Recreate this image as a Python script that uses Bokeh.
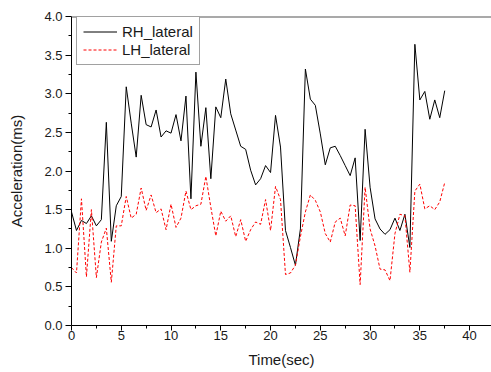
from bokeh.plotting import figure
from bokeh.models import FixedTicker, PrintfTickFormatter, Legend, LegendItem, Span, Range1d
from bokeh.embed import file_html
from bokeh.resources import INLINE

time_sec = [0.0, 0.5, 1.0, 1.5, 2.0, 2.5, 3.0, 3.5, 4.0, 4.5,
            5.0, 5.5, 6.0, 6.5, 7.0, 7.5, 8.0, 8.5, 9.0, 9.5,
            10.0, 10.5, 11.0, 11.5, 12.0, 12.5, 13.0, 13.5, 14.0, 14.5,
            15.0, 15.5, 16.0, 16.5, 17.0, 17.5, 18.0, 18.5, 19.0, 19.5,
            20.0, 20.5, 21.0, 21.5, 22.0, 22.5, 23.0, 23.5, 24.0, 24.5,
            25.0, 25.5, 26.0, 26.5, 27.0, 27.5, 28.0, 28.5, 29.0, 29.5,
            30.0, 30.5, 31.0, 31.5, 32.0, 32.5, 33.0, 33.5, 34.0, 34.5,
            35.0, 35.5, 36.0, 36.5, 37.0, 37.5]

rh_lateral = [1.47, 1.23, 1.36, 1.32, 1.42, 1.29, 1.37, 2.63, 1.09, 1.55,
              1.67, 3.09, 2.62, 2.18, 2.98, 2.60, 2.57, 2.79, 2.44, 2.52,
              2.49, 2.73, 2.39, 2.97, 1.64, 3.28, 2.32, 2.82, 1.90, 2.83,
              2.69, 3.19, 2.74, 2.53, 2.32, 2.28, 2.01, 1.82, 1.90, 2.07,
              1.98, 2.72, 2.31, 1.23, 1.01, 0.78, 1.25, 3.32, 2.93, 2.85,
              2.48, 2.08, 2.30, 2.32, 2.20, 2.07, 1.94, 2.17, 1.10, 2.54,
              1.79, 1.38, 1.25, 1.18, 1.24, 1.39, 1.23, 1.44, 1.01, 3.64,
              2.92, 3.03, 2.67, 2.92, 2.69, 3.04]

lh_lateral = [0.75, 0.68, 1.64, 0.63, 1.50, 0.62, 1.08, 1.26, 0.56, 1.29,
              1.29, 1.67, 1.39, 1.44, 1.78, 1.49, 1.69, 1.46, 1.51, 1.24,
              1.57, 1.27, 1.39, 1.74, 1.50, 1.55, 1.57, 1.93, 1.53, 1.16,
              1.48, 1.35, 1.42, 1.15, 1.37, 1.09, 1.24, 1.34, 1.31, 1.63,
              1.23, 1.80, 1.63, 0.66, 0.68, 0.78, 1.15, 1.47, 1.69, 1.62,
              1.47, 1.19, 1.08, 1.34, 1.39, 1.16, 1.56, 1.55, 0.53, 1.79,
              1.25, 1.03, 0.73, 0.72, 0.58, 1.19, 1.44, 1.42, 0.69, 1.74,
              1.83, 1.51, 1.55, 1.50, 1.60, 1.85]

x_ticks = [0, 5, 10, 15, 20, 25, 30, 35, 40]
x_minor = [2.5, 7.5, 12.5, 17.5, 22.5, 27.5, 32.5, 37.5, 42.5]
y_ticks = [0.0, 0.5, 1.0, 1.5, 2.0, 2.5, 3.0, 3.5, 4.0]
y_minor = [0.25, 0.75, 1.25, 1.75, 2.25, 2.75, 3.25, 3.75]

FONT = "Liberation Sans"

p = figure(width=491, height=372, output_backend="svg", toolbar_location=None,
           x_range=Range1d(0, 42.2), y_range=Range1d(0, 4.0),
           min_border_left=71, min_border_right=0, min_border_top=16, min_border_bottom=47)
p.grid.visible = False
p.outline_line_color = None
p.background_fill_color = "white"
p.border_fill_color = "white"

r1 = p.line(time_sec, rh_lateral, line_color="black", line_width=1)
r2 = p.line(time_sec, lh_lateral, line_color="#ff0000", line_width=1, line_dash="3 2")

p.add_layout(Span(location=4.0, dimension="width", line_color="#555555", line_width=2))

for ax in (p.xaxis[0], p.yaxis[0]):
    ax.axis_line_color = "black"
    ax.axis_line_width = 1
    ax.major_tick_line_color = "black"
    ax.minor_tick_line_color = "black"
    ax.major_tick_in = 0
    ax.minor_tick_in = 0
    ax.minor_tick_out = 3
    ax.major_label_text_font = FONT
    ax.major_label_text_font_size = "13px"
    ax.major_label_text_color = "#1a1a1a"
    ax.axis_label_text_font = FONT
    ax.axis_label_text_font_size = "15px"
    ax.axis_label_text_font_style = "normal"
    ax.axis_label_text_color = "#1a1a1a"

p.xaxis.ticker = FixedTicker(ticks=x_ticks, minor_ticks=x_minor)
p.yaxis.ticker = FixedTicker(ticks=y_ticks, minor_ticks=y_minor)
p.yaxis.formatter = PrintfTickFormatter(format="%.1f")
p.xaxis.major_tick_out = 5
p.yaxis.major_tick_out = 6
p.xaxis.major_label_standoff = 0
p.yaxis.major_label_standoff = 3
p.xaxis.axis_label = "Time(sec)"
p.yaxis.axis_label = "Acceleration(ms)"
p.xaxis.axis_label_standoff = 8
p.yaxis.axis_label_standoff = 16

legend = Legend(items=[LegendItem(label="RH_lateral", renderers=[r1]),
                       LegendItem(label="LH_lateral", renderers=[r2])],
                location=(5, 260), margin=0, padding=6, spacing=1,
                glyph_width=34, glyph_height=17, label_height=17, label_standoff=5,
                border_line_color="#444444", border_line_width=1,
                background_fill_alpha=1.0, background_fill_color="white",
                label_text_font=FONT, label_text_font_size="15px",
                label_text_color="#1a1a1a")
p.add_layout(legend)

open("out.html", "w").write(file_html(p, INLINE))
